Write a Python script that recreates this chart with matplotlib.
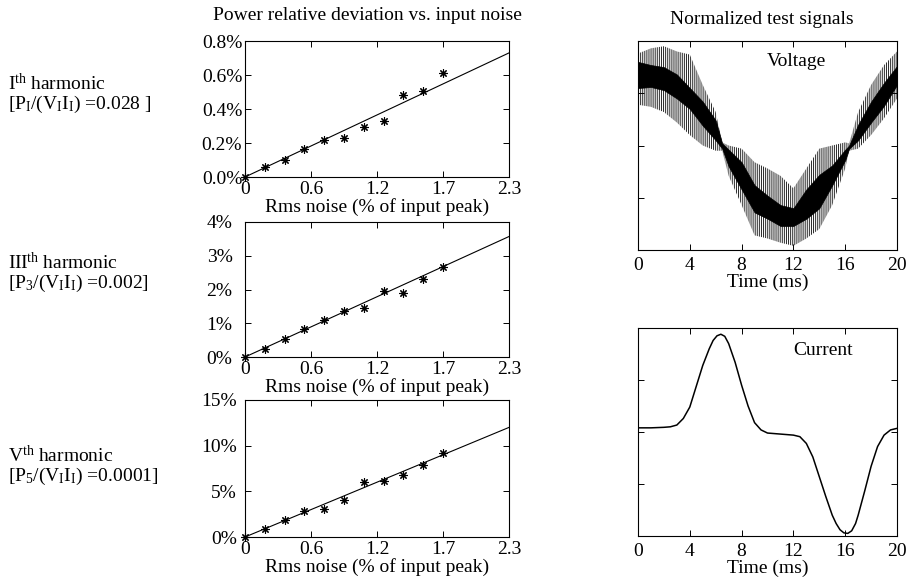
import matplotlib
matplotlib.use("Agg")
import matplotlib.pyplot as plt
from matplotlib.ticker import FuncFormatter

plt.rcParams["font.family"] = ["Liberation Serif", "DejaVu Serif"]
plt.rcParams["mathtext.fontset"] = "custom"
plt.rcParams["mathtext.rm"] = "Liberation Serif"
plt.rcParams["mathtext.it"] = "Liberation Serif:italic"
plt.rcParams["font.size"] = 14
plt.rcParams["axes.linewidth"] = 0.8
plt.rcParams["hatch.linewidth"] = 0.7

# Rms noise levels (% of input peak)
NOISE = [0, 0.1725, 0.345, 0.5175, 0.69, 0.8625, 1.035, 1.2075, 1.38, 1.5525, 1.725]

# Power relative deviation (%) per harmonic
DEV_H1 = [0, 0.059, 0.100, 0.165, 0.216, 0.231, 0.294, 0.331, 0.482, 0.504, 0.614]
DEV_H3 = [0, 0.25, 0.52, 0.84, 1.09, 1.36, 1.44, 1.95, 1.91, 2.32, 2.66]
DEV_H5 = [0, 0.85, 1.9, 2.8, 3.1, 4.1, 6.0, 6.15, 6.8, 7.9, 9.2]

# fitted lines, value at x=0 and x=2.3
FIT_X = [0, 2.3]
FIT_H1 = [0, 0.73]
FIT_H3 = [0, 3.57]
FIT_H5 = [0, 12.0]

YTICKS_H1 = [0, 0.2, 0.4, 0.6, 0.8]
YTICKS_H3 = [0, 1, 2, 3, 4]
YTICKS_H5 = [0, 5, 10, 15]

LABELS = [
    "I$^{\\mathrm{th}}$ harmonic\n"
    "[P$_{\\mathrm{I}}$/(V$_{\\mathrm{I}}$I$_{\\mathrm{I}}$) =0.028 ]",
    "III$^{\\mathrm{th}}$ harmonic\n"
    "[P$_{\\mathrm{3}}$/(V$_{\\mathrm{I}}$I$_{\\mathrm{I}}$) =0.002]",
    "V$^{\\mathrm{th}}$ harmonic\n"
    "[P$_{\\mathrm{5}}$/(V$_{\\mathrm{I}}$I$_{\\mathrm{I}}$) =0.0001]",
]

# Voltage test signal, envelopes read every ms (normalized)
V_T = [0, 1, 2, 3, 4, 5, 6, 6.5, 7, 8, 9, 10, 11, 12, 13, 14, 15, 16, 16.3, 17, 18, 19, 20]
V_OUT_HI = [0.88, 0.93, 0.95, 0.90, 0.87, 0.58, 0.32, 0.03, 0.00, -0.03, -0.16, -0.22,
            -0.29, -0.41, -0.22, -0.03, 0.00, 0.03, 0.02, 0.32, 0.58, 0.77, 0.90]
V_OUT_LO = [0.39, 0.37, 0.32, 0.22, 0.10, 0.00, -0.05, -0.05, -0.29, -0.57, -0.86, -0.89,
            -0.93, -0.96, -0.89, -0.80, -0.57, -0.22, -0.05, -0.03, 0.10, 0.26, 0.45]
V_CORE_HI = [0.80, 0.77, 0.75, 0.68, 0.55, 0.42, 0.24, 0.02, -0.04, -0.16, -0.38, -0.48,
             -0.57, -0.60, -0.42, -0.28, -0.19, -0.04, 0.00, 0.20, 0.42, 0.60, 0.76]
V_CORE_LO = [0.55, 0.56, 0.53, 0.45, 0.35, 0.19, 0.05, -0.03, -0.20, -0.42, -0.64, -0.70,
             -0.77, -0.77, -0.70, -0.60, -0.38, -0.14, -0.03, 0.05, 0.22, 0.38, 0.58]

# Current test signal (normalized)
I_T = [0, 1, 2, 2.5, 3, 3.5, 4, 4.5, 5, 5.5, 5.8, 6.1, 6.4, 6.7, 7, 7.5, 8, 8.5, 9, 9.5,
       10, 11, 12, 12.5, 13, 13.5, 14, 14.5, 15, 15.3, 15.6, 15.9, 16.2, 16.5, 16.8, 17,
       17.5, 18, 18.5, 19, 19.5, 20]
I_VAL = [0.04, 0.04, 0.045, 0.05, 0.067, 0.13, 0.24, 0.44, 0.64, 0.80, 0.88, 0.925, 0.94,
         0.92, 0.85, 0.67, 0.45, 0.25, 0.09, 0.02, -0.01, -0.02, -0.03, -0.045, -0.11,
         -0.24, -0.43, -0.62, -0.80, -0.88, -0.94, -0.97, -0.975, -0.95, -0.88, -0.80,
         -0.57, -0.33, -0.14, -0.03, 0.02, 0.035]

W, H = 907, 583


def box(x0, y0, x1, y1):
    # pixel box (top-left origin) -> figure fraction rect
    return [x0 / W, 1 - y1 / H, (x1 - x0) / W, (y1 - y0) / H]


def pct_fmt(dec):
    return FuncFormatter(lambda v, p: f"{v:.{dec}f}%")


def style_ticks(ax, ypad):
    ax.tick_params(direction="in", top=True, right=True, length=4, width=0.7)
    ax.tick_params(axis="x", pad=3)
    ax.tick_params(axis="y", pad=ypad)


fig = plt.figure(figsize=(W / 100, H / 100), dpi=100)

left_boxes = [box(245, 41, 509, 177), box(245, 222, 509, 357), box(245, 400, 509, 537)]
series = [(DEV_H1, FIT_H1, YTICKS_H1, 1), (DEV_H3, FIT_H3, YTICKS_H3, 0),
          (DEV_H5, FIT_H5, YTICKS_H5, 0)]
ypads = [2, 9, 6]
label_y = [94, 273, 466]

for rect, (dev, fit, yt, dec), ypad, ly, lab in zip(
        left_boxes, series, ypads, label_y, LABELS):
    ax = fig.add_axes(rect)
    ax.plot(FIT_X, fit, color="black", lw=0.8)
    ax.plot(NOISE, dev, ls="none", marker=(8, 2, 0), ms=6, mew=0.8,
            color="black", clip_on=False)
    ax.set_xlim(0, 2.3)
    ax.set_ylim(yt[0], yt[-1])
    ax.set_xticks([0, 0.575, 1.15, 1.725, 2.3])
    ax.set_xticklabels(["0", "0.6", "1.2", "1.7", "2.3"])
    ax.set_yticks(yt)
    ax.yaxis.set_major_formatter(pct_fmt(dec))
    ax.set_xlabel("Rms noise (% of input peak)", labelpad=0)
    style_ticks(ax, ypad)
    fig.text(8 / W, 1 - ly / H, lab, ha="left", va="center", linespacing=1.0)

fig.text(367 / W, 1 - 15 / H, "Power relative deviation vs. input noise",
         ha="center", va="center")
fig.text(762 / W, 1 - 20 / H, "Normalized test signals", ha="center", va="center")

# voltage
axv = fig.add_axes(box(638, 41, 897, 250))
axv.fill_between(V_T, V_OUT_LO, V_OUT_HI, facecolor="none", edgecolor="0.15",
                 hatch="||||||||", lw=0)
axv.fill_between(V_T, V_CORE_LO, V_CORE_HI, color="black", lw=0.5)
axv.text(0.61, 0.90, "Voltage", transform=axv.transAxes, ha="center", va="center")

# current
axi = fig.add_axes(box(638, 328, 897, 536))
axi.plot(I_T, I_VAL, color="black", lw=1.1)
axi.text(0.714, 0.89, "Current", transform=axi.transAxes, ha="center", va="center")

for ax in (axv, axi):
    ax.set_xlim(0, 20)
    ax.set_ylim(-1, 1)
    ax.set_xticks([0, 4, 8, 12, 16, 20])
    ax.set_yticks([-0.5, 0, 0.5])
    ax.set_yticklabels([])
    ax.set_xlabel("Time (ms)", labelpad=0)
    ax.tick_params(direction="in", top=True, right=True, length=4, width=0.7)
    ax.tick_params(axis="x", pad=5)

fig.savefig("out.png", dpi=100)
